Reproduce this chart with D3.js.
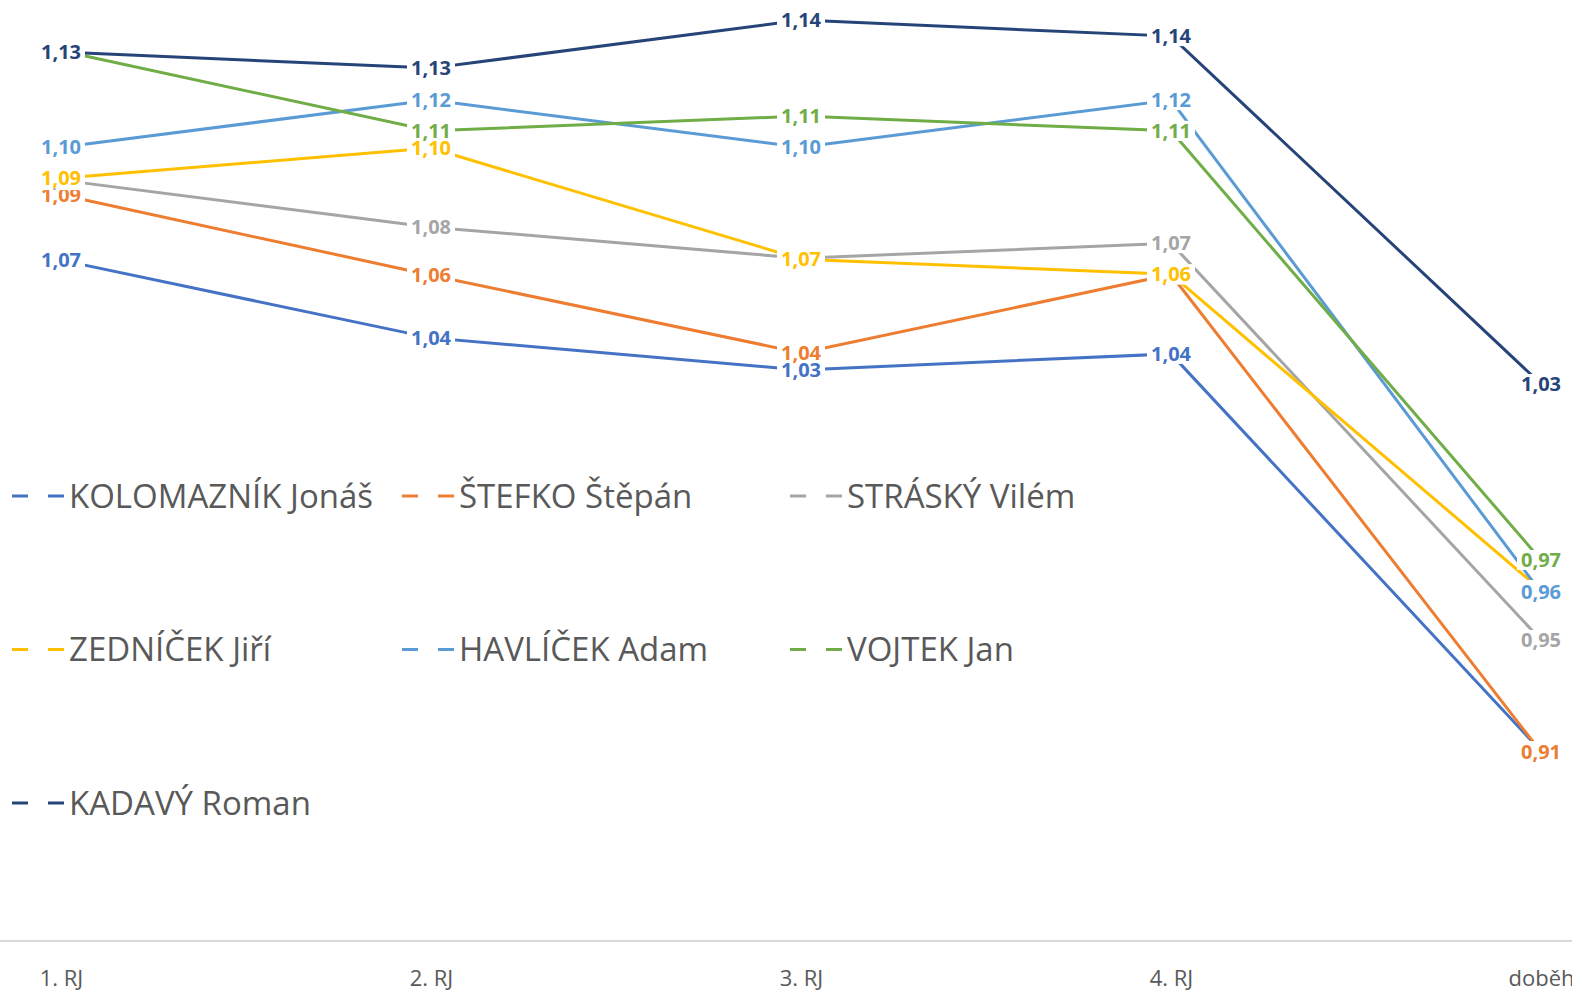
<!DOCTYPE html>
<html>
<head>
<meta charset="utf-8">
<script src="https://cdn.jsdelivr.net/npm/d3@7"></script>
<style>
  body { margin: 0; background: #fff; }
  svg { display: block; }
  .tick-label { font-family: 'Open Sans', sans-serif; font-size: 22px; fill: #595959; }
  .legend-text { font-family: 'Open Sans', sans-serif; font-size: 33px; fill: #595959; }
  .value-label { font-family: 'Open Sans', sans-serif; font-size: 20px; font-weight: 700; }
</style>
</head>
<body>
<svg class="chart" width="1572" height="992"></svg>
<script>
// categories on the x axis
var categories = ['1. RJ', '2. RJ', '3. RJ', '4. RJ', 'doběh']

// series names, in legend order
var names = [
  'KOLOMAZNÍK Jonáš',
  'ŠTEFKO Štěpán',
  'STRÁSKÝ Vilém',
  'ZEDNÍČEK Jiří',
  'HAVLÍČEK Adam',
  'VOJTEK Jan',
  'KADAVÝ Roman'
]

var colors = ['#4472C4', '#ED7D31', '#A5A5A5', '#FFC000', '#5B9BD5', '#70AD47', '#264478']

// values
var kolomaznik = [1.0684, 1.0441, 1.0341, 1.0391, 0.9150]
var stefko = [1.0888, 1.0637, 1.0394, 1.0639, 0.9147]
var strasky = [1.0934, 1.0787, 1.0690, 1.0737, 0.9497]
var zednicek = [1.0940, 1.1034, 1.0687, 1.0640, 0.9653]
var havlicek = [1.1037, 1.1184, 1.1037, 1.1184, 0.9646]
var vojtek = [1.1338, 1.1088, 1.1134, 1.1088, 0.9747]
var kadavy = [1.1334, 1.1284, 1.1434, 1.1384, 1.0297]

var series = [kolomaznik, stefko, strasky, zednicek, havlicek, vojtek, kadavy]

var svg = d3.select('.chart')

var xScale = d3
  .scalePoint()
  .domain(categories)
  .range([61, 1541])

var yScale = d3
  .scaleLinear()
  .domain([0.855, 1.145])
  .range([943, 15])

var fmt = function(v) {
  return d3.format('.2f')(v).replace('.', ',')
}

// category axis line
svg
  .append('line')
  .attr('x1', 0)
  .attr('x2', 1572)
  .attr('y1', 941)
  .attr('y2', 941)
  .attr('stroke', '#d9d9d9')
  .attr('stroke-width', 2)

// category labels
var xAxis = svg
  .append('g')
  .attr('transform', 'translate(0, 941)')
  .call(d3.axisBottom(xScale).tickSize(0).tickPadding(29))

xAxis.select('.domain').remove()
xAxis
  .selectAll('text')
  .attr('class', 'tick-label')
  .attr('font-family', null)
  .attr('font-size', null)
  .attr('fill', null)

// lines
var line = d3
  .line()
  .x(function(d, i) {
    return xScale(categories[i])
  })
  .y(function(d) {
    return yScale(d)
  })

svg
  .append('g')
  .selectAll('path')
  .data(series)
  .enter()
  .append('path')
  .attr('d', line)
  .attr('fill', 'none')
  .attr('stroke', function(d, i) {
    return colors[i]
  })
  .attr('stroke-width', 3)

// data labels with white boxes that cover the lines
var labels = svg.append('g')
series.forEach(function(values, s) {
  values.forEach(function(v, i) {
    var g = labels
      .append('g')
      .attr('transform', 'translate(' + xScale(categories[i]) + ',' + yScale(v) + ')')
    g.append('rect')
      .attr('x', -24)
      .attr('y', -10)
      .attr('width', 48)
      .attr('height', 20)
      .attr('fill', '#fff')
    g.append('text')
      .attr('class', 'value-label')
      .attr('text-anchor', 'middle')
      .attr('dy', '0.36em')
      .attr('fill', colors[s])
      .text(fmt(v))
  })
})

// legend, 3 columns
var legend = svg
  .append('g')
  .selectAll('g')
  .data(names)
  .enter()
  .append('g')
  .attr('transform', function(d, i) {
    return 'translate(' + [12, 402, 790][i % 3] + ',' + (496 + Math.floor(i / 3) * 153.5) + ')'
  })

legend
  .append('line')
  .attr('x1', 0)
  .attr('x2', 56)
  .attr('stroke', function(d, i) {
    return colors[i]
  })
  .attr('stroke-width', 3)
  .attr('stroke-dasharray', '16 20')

legend
  .append('text')
  .attr('class', 'legend-text')
  .attr('x', 57)
  .attr('dy', '0.35em')
  .text(function(d) {
    return d
  })
</script>
</body>
</html>
